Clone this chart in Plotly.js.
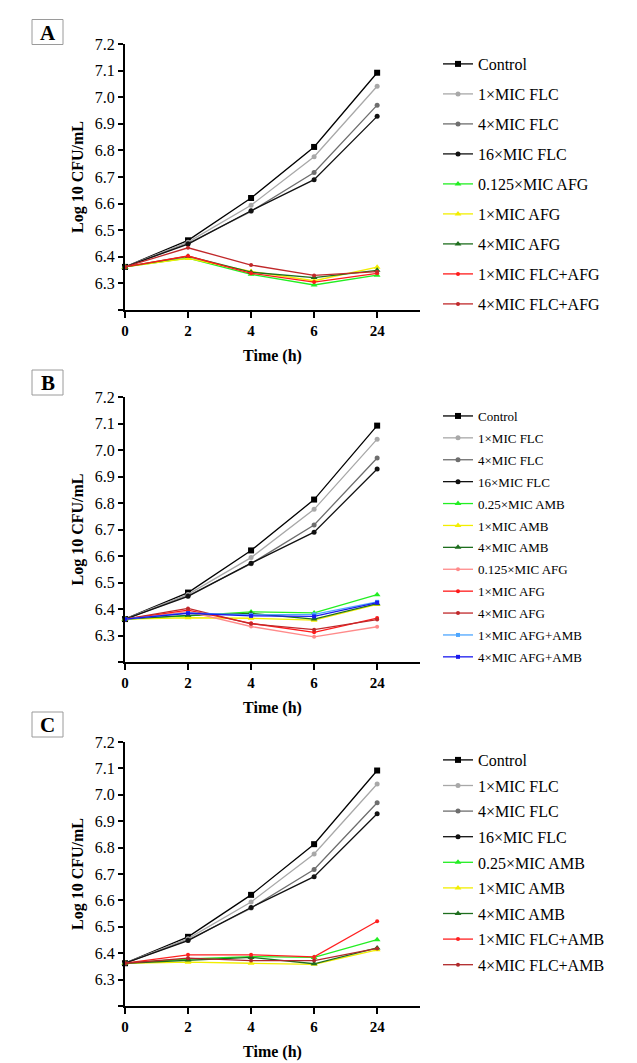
<!DOCTYPE html>
<html>
<head>
<meta charset="utf-8">
<script src="https://cdn.plot.ly/plotly-3.0.1.min.js"></script>
<style>html,body{margin:0;padding:0;background:#fff}#chart{width:637px;height:1063px}</style>
</head>
<body>
<div id="chart"></div>
<script>
// ---------- data ----------
var timeLabels = ['0', '2', '4', '6', '24'];
var timeIndex = [0, 1, 2, 3, 4];
var yTickVals = [6.2, 6.3, 6.4, 6.5, 6.6, 6.7, 6.8, 6.9, 7.0, 7.1, 7.2];
var yTickText = ['', '6.3', '6.4', '6.5', '6.6', '6.7', '6.8', '6.9', '7.0', '7.1', '7.2'];

// common series (all panels)
var control = [6.362, 6.462, 6.621, 6.813, 7.092];
var flc1 = [6.362, 6.455, 6.594, 6.776, 7.041];
var flc4 = [6.362, 6.450, 6.571, 6.717, 6.970];
var flc16 = [6.362, 6.448, 6.573, 6.690, 6.928];

// panel A
var afg0125A = [6.362, 6.395, 6.334, 6.294, 6.331];
var afg1A = [6.362, 6.394, 6.345, 6.310, 6.361];
var afg4A = [6.362, 6.402, 6.342, 6.322, 6.349];
var flcAfg1A = [6.362, 6.403, 6.338, 6.305, 6.338];
var flcAfg4A = [6.362, 6.434, 6.369, 6.330, 6.344];

// panel B
var amb025B = [6.362, 6.374, 6.389, 6.385, 6.454];
var amb1B = [6.362, 6.367, 6.365, 6.358, 6.417];
var amb4B = [6.362, 6.376, 6.383, 6.362, 6.420];
var afg0125B = [6.362, 6.390, 6.334, 6.295, 6.333];
var afg1B = [6.362, 6.396, 6.346, 6.312, 6.366];
var afg4B = [6.362, 6.402, 6.344, 6.322, 6.360];
var afgAmb1B = [6.362, 6.385, 6.378, 6.380, 6.427];
var afgAmb4B = [6.362, 6.384, 6.374, 6.372, 6.424];

// panel C
var amb025C = [6.362, 6.378, 6.387, 6.384, 6.451];
var amb1C = [6.362, 6.366, 6.362, 6.358, 6.413];
var amb4C = [6.362, 6.374, 6.384, 6.360, 6.420];
var flcAmb1C = [6.362, 6.394, 6.394, 6.386, 6.521];
var flcAmb4C = [6.362, 6.381, 6.372, 6.372, 6.418];

var panelLabels = ['A', 'B', 'C'];

// ---------- styles ----------
var FONT = 'Liberation Serif, Times New Roman, serif';
var traces = [];
var gid = 0;
function add(panel, name, y, color, symbol, size) {
  var ax = panel === 1 ? '' : String(panel);
  traces.push({
    type: 'scatter', mode: 'lines+markers',
    x: timeIndex, y: y, name: name,
    xaxis: 'x' + ax, yaxis: 'y' + ax,
    legend: panel === 1 ? 'legend' : 'legend' + panel,
    legendgroup: 'g' + (gid++),
    line: {color: color, width: 1.3},
    marker: {color: color, symbol: symbol, size: size},
    cliponaxis: false
  });
}
function common(p) {
  add(p, 'Control', control, '#000000', 'square', 6);
  add(p, '1×MIC FLC', flc1, '#a8a8a8', 'circle', 5);
  add(p, '4×MIC FLC', flc4, '#6e6e6e', 'circle', 5);
  add(p, '16×MIC FLC', flc16, '#111111', 'circle', 5);
}
common(1);
add(1, '0.125×MIC AFG', afg0125A, '#22ee22', 'triangle-up', 6);
add(1, '1×MIC AFG', afg1A, '#f2ee00', 'triangle-up', 6);
add(1, '4×MIC AFG', afg4A, '#1e6e1e', 'triangle-up', 6);
add(1, '1×MIC FLC+AFG', flcAfg1A, '#ff1a1a', 'circle', 4);
add(1, '4×MIC FLC+AFG', flcAfg4A, '#c0282a', 'circle', 4);

common(2);
add(2, '0.25×MIC AMB', amb025B, '#22ee22', 'triangle-up', 6);
add(2, '1×MIC AMB', amb1B, '#f2ee00', 'triangle-up', 6);
add(2, '4×MIC AMB', amb4B, '#1e6e1e', 'triangle-up', 6);
add(2, '0.125×MIC AFG', afg0125B, '#ff8a8a', 'circle', 4);
add(2, '1×MIC AFG', afg1B, '#ff1a1a', 'circle', 4);
add(2, '4×MIC AFG', afg4B, '#c0282a', 'circle', 4);
add(2, '1×MIC AFG+AMB', afgAmb1B, '#4da6ff', 'square', 4);
add(2, '4×MIC AFG+AMB', afgAmb4B, '#1a1aee', 'square', 4);

common(3);
add(3, '0.25×MIC AMB', amb025C, '#22ee22', 'triangle-up', 6);
add(3, '1×MIC AMB', amb1C, '#f2ee00', 'triangle-up', 6);
add(3, '4×MIC AMB', amb4C, '#1e6e1e', 'triangle-up', 6);
add(3, '1×MIC FLC+AMB', flcAmb1C, '#ff2020', 'circle', 4);
add(3, '4×MIC FLC+AMB', flcAmb4C, '#b0282a', 'circle', 4);

var H = 1063, W = 637;
function xa(anchor) {
  return {
    domain: [125 / W, 420 / W], range: [0, 4.68], anchor: anchor,
    tickvals: timeIndex, ticktext: timeLabels,
    showline: true, linecolor: '#000', linewidth: 2, mirror: false,
    ticks: 'outside', ticklen: 6, tickwidth: 2, tickcolor: '#000',
    showgrid: false, zeroline: false,
    tickfont: {family: FONT, size: 15, color: '#000', weight: 'bold'},
    title: {text: '<b>Time (h)</b>', font: {family: FONT, size: 16, color: '#000'}, standoff: 12}
  };
}
function ya(anchor, top, bottom) {
  return {
    domain: [1 - bottom / H, 1 - top / H], range: [6.2, 7.2], anchor: anchor,
    tickvals: yTickVals, ticktext: yTickText,
    showline: true, linecolor: '#000', linewidth: 2,
    ticks: 'outside', ticklen: 5, tickwidth: 2, tickcolor: '#000',
    showgrid: false, zeroline: false,
    tickfont: {family: FONT, size: 16, color: '#000'},
    title: {text: '<b>Log 10 CFU/mL</b>', font: {family: FONT, size: 16, color: '#000'}, standoff: 7}
  };
}
function leg(top, size, gap) {
  return {
    x: 438 / W, xanchor: 'left', y: 1 - top / H, yanchor: 'top',
    font: {family: FONT, size: size, color: '#000'},
    traceorder: 'grouped', tracegroupgap: gap,
    bgcolor: 'rgba(0,0,0,0)', borderwidth: 0
  };
}
var boxTops = [19.5, 370, 712];
var annotations = [], shapes = [];
panelLabels.forEach(function (t, i) {
  var top = boxTops[i], bot = top + 25;
  shapes.push({
    type: 'rect', xref: 'paper', yref: 'paper',
    x0: 32 / W, x1: 63 / W, y0: 1 - bot / H, y1: 1 - top / H,
    line: {color: '#9a9a9a', width: 1}, fillcolor: '#fff'
  });
  annotations.push({
    text: '<b>' + t + '</b>', xref: 'paper', yref: 'paper',
    x: 47.5 / W, y: 1 - (top + 13) / H, xanchor: 'center', yanchor: 'middle',
    showarrow: false, font: {family: FONT, size: 21, color: '#000'}
  });
});

var layout = {
  width: W, height: H,
  margin: {l: 0, r: 0, t: 0, b: 0},
  paper_bgcolor: '#fff', plot_bgcolor: '#fff',
  showlegend: true,
  xaxis: xa('y'), yaxis: ya('x', 44, 310),
  xaxis2: xa('y2'), yaxis2: ya('x2', 397, 662),
  xaxis3: xa('y3'), yaxis3: ya('x3', 742, 1006),
  legend: leg(47, 16, 6.2),
  legend2: leg(401, 13, 2),
  legend3: leg(743, 16, 1.8),
  shapes: shapes,
  annotations: annotations
};

Plotly.newPlot('chart', traces, layout, {displayModeBar: false, responsive: false});
</script>
</body>
</html>
